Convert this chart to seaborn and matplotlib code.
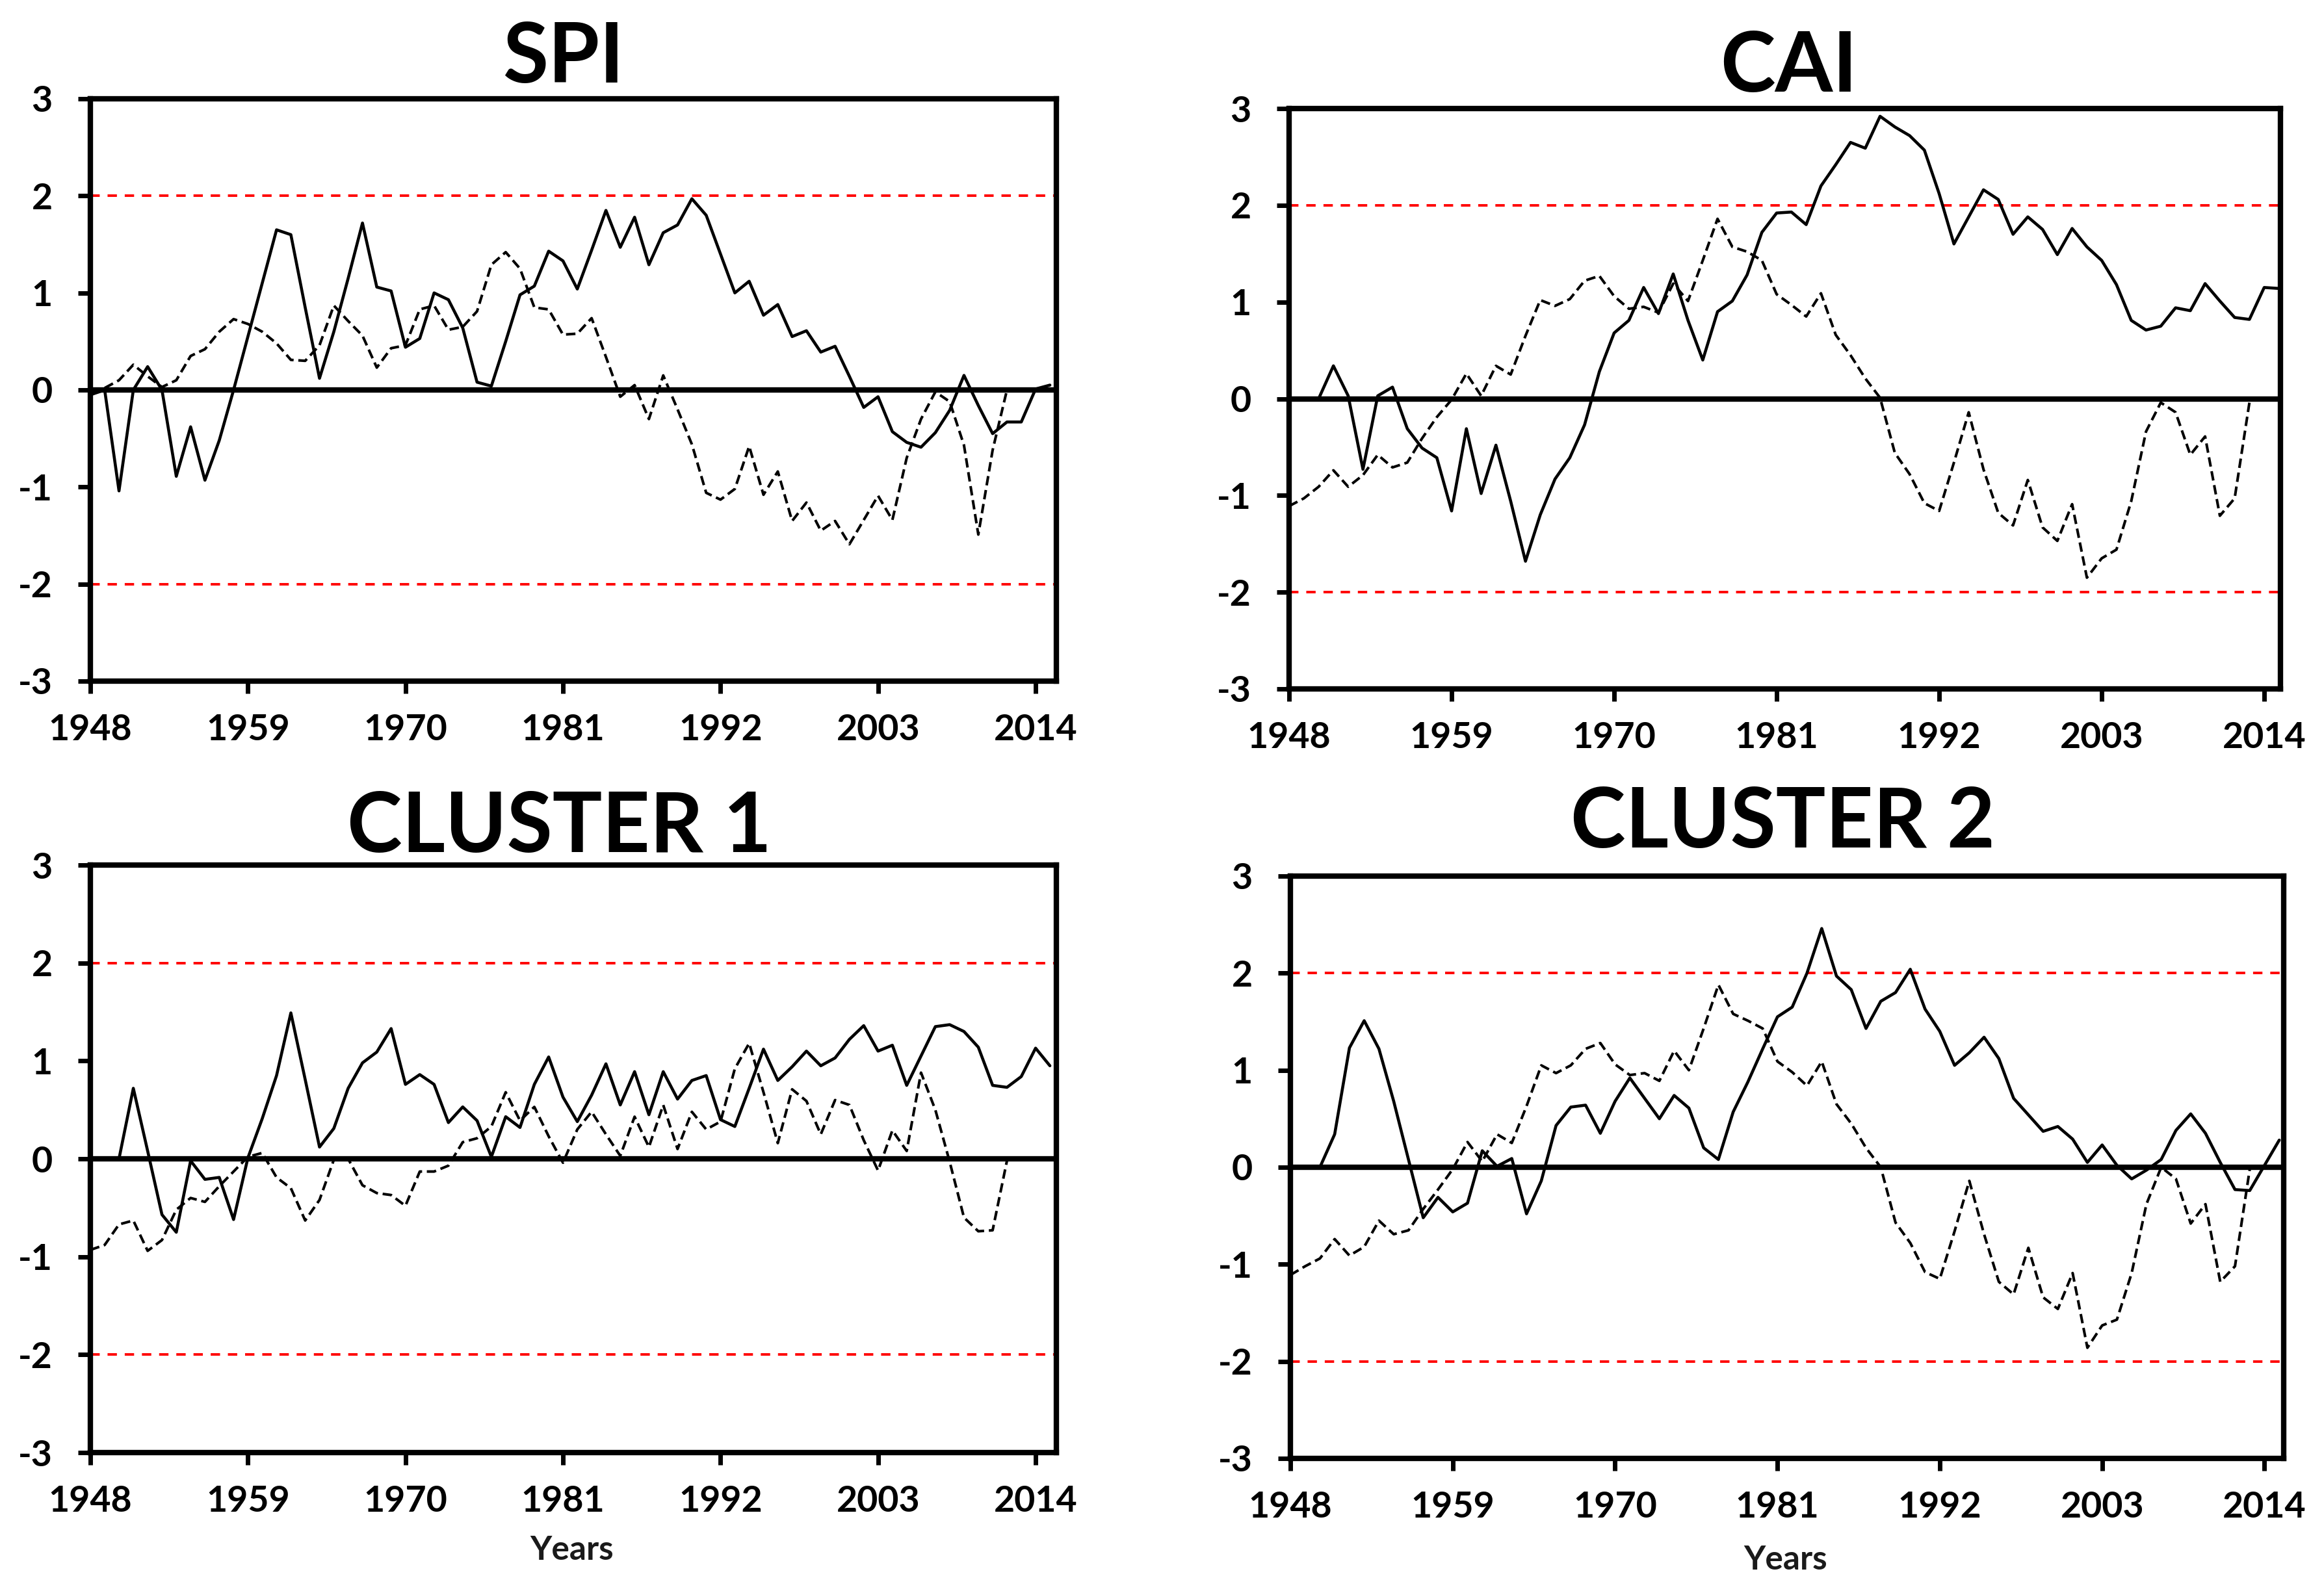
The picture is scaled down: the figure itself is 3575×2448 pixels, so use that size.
import numpy as np
import pandas as pd
import matplotlib
matplotlib.use("Agg")
import matplotlib.pyplot as plt
import seaborn as sns

nan = np.nan
years = list(range(1948, 2016))
xtick_years = list(range(1948, 2015, 11))
ytick_vals = [-3, -2, -1, 0, 1, 2, 3]

# values, 1948..2015 (nan = no value drawn)
spi_solid = [-0.05, 0.0, -1.04, 0.0, 0.24, 0.0, -0.89, -0.38, -0.93, -0.52,
             0.0, 0.55, 1.1, 1.65, 1.6, 0.85, 0.12, 0.6, 1.15, 1.72,
             1.06, 1.02, 0.44, 0.53, 1.0, 0.93, 0.64, 0.08, 0.04, 0.5,
             0.98, 1.07, 1.43, 1.33, 1.04, 1.44, 1.85, 1.47, 1.78, 1.29,
             1.62, 1.70, 1.97, 1.80, 1.40, 1.0, 1.12, 0.77, 0.88, 0.55,
             0.61, 0.39, 0.45, 0.14, -0.18, -0.07, -0.43, -0.54, -0.59, -0.44,
             -0.21, 0.15, -0.16, -0.45, -0.33, -0.33, 0.01, 0.05]
spi_dashed = [nan, 0.02, 0.1, 0.26, 0.14, 0.03, 0.1, 0.35, 0.42, 0.6,
              0.73, 0.68, 0.6, 0.48, 0.31, 0.3, 0.46, 0.87, 0.71, 0.56,
              0.23, 0.43, 0.46, 0.83, 0.87, 0.62, 0.65, 0.81, 1.29, 1.42,
              1.25, 0.85, 0.83, 0.57, 0.58, 0.74, 0.34, -0.07, 0.05, -0.3,
              0.15, -0.2, -0.56, -1.06, -1.13, -1.02, -0.58, -1.08, -0.84, -1.35,
              -1.16, -1.45, -1.35, -1.59, -1.34, -1.09, -1.34, -0.7, -0.3, -0.02,
              -0.12, -0.57, -1.49, -0.62, 0.0, nan, nan, nan]

cai_solid = [nan, nan, 0.0, 0.34, 0.03, -0.73, 0.03, 0.12, -0.31, -0.51,
             -0.61, -1.16, -0.31, -0.98, -0.48, -1.06, -1.68, -1.2, -0.83, -0.61,
             -0.27, 0.28, 0.68, 0.81, 1.15, 0.88, 1.29, 0.81, 0.40, 0.90,
             1.01, 1.28, 1.72, 1.92, 1.93, 1.80, 2.20, 2.42, 2.65, 2.59,
             2.92, 2.81, 2.72, 2.57, 2.12, 1.60, 1.88, 2.16, 2.06, 1.70,
             1.88, 1.75, 1.49, 1.76, 1.57, 1.43, 1.18, 0.81, 0.71, 0.75,
             0.94, 0.91, 1.19, 1.01, 0.84, 0.82, 1.15, 1.14]
cai_dashed = [-1.11, -1.03, -0.91, -0.74, -0.91, -0.79, -0.58, -0.71, -0.66, -0.41,
              -0.19, -0.01, 0.26, 0.03, 0.34, 0.25, 0.65, 1.02, 0.96, 1.03,
              1.22, 1.27, 1.06, 0.93, 0.95, 0.89, 1.19, 1.01, 1.43, 1.86,
              1.57, 1.52, 1.43, 1.08, 0.97, 0.85, 1.09, 0.66, 0.45, 0.21,
              0.01, -0.56, -0.78, -1.08, -1.16, -0.66, -0.14, -0.73, -1.18, -1.31,
              -0.84, -1.33, -1.47, -1.09, -1.85, -1.65, -1.56, -1.06, -0.34, -0.04,
              -0.14, -0.58, -0.39, -1.21, -1.03, -0.04, nan, nan]

cl1_solid = [nan, nan, 0.0, 0.72, 0.08, -0.57, -0.75, -0.02, -0.21, -0.19,
             -0.62, 0.01, 0.41, 0.85, 1.49, 0.81, 0.12, 0.31, 0.72, 0.98,
             1.09, 1.33, 0.76, 0.86, 0.76, 0.37, 0.53, 0.39, 0.02, 0.43,
             0.32, 0.76, 1.04, 0.63, 0.38, 0.65, 0.97, 0.55, 0.89, 0.45,
             0.89, 0.61, 0.80, 0.85, 0.40, 0.33, 0.72, 1.12, 0.80, 0.94,
             1.10, 0.95, 1.03, 1.22, 1.36, 1.10, 1.16, 0.75, 1.05, 1.35,
             1.37, 1.30, 1.14, 0.75, 0.73, 0.84, 1.13, 0.95]
cl1_dashed = [-0.93, -0.88, -0.67, -0.63, -0.94, -0.83, -0.52, -0.40, -0.44, -0.28,
              -0.13, 0.02, 0.06, -0.19, -0.30, -0.63, -0.42, -0.01, 0.0, -0.27,
              -0.35, -0.37, -0.48, -0.13, -0.13, -0.07, 0.17, 0.21, 0.33, 0.68,
              0.39, 0.53, 0.23, -0.04, 0.30, 0.48, 0.25, 0.03, 0.43, 0.12,
              0.55, 0.10, 0.48, 0.30, 0.38, 0.92, 1.18, 0.68, 0.16, 0.71,
              0.59, 0.25, 0.60, 0.55, 0.19, -0.12, 0.29, 0.08, 0.88, 0.50,
              -0.03, -0.60, -0.74, -0.73, -0.02, nan, nan, nan]

cl2_solid = [nan, nan, 0.0, 0.34, 1.23, 1.51, 1.22, 0.68, 0.08, -0.52,
             -0.31, -0.46, -0.37, 0.17, 0.01, 0.09, -0.48, -0.14, 0.43, 0.62,
             0.64, 0.35, 0.68, 0.92, 0.71, 0.50, 0.74, 0.61, 0.20, 0.08,
             0.57, 0.88, 1.22, 1.55, 1.65, 2.0, 2.46, 1.97, 1.83, 1.43,
             1.71, 1.80, 2.04, 1.63, 1.40, 1.05, 1.18, 1.34, 1.12, 0.71,
             0.54, 0.37, 0.42, 0.29, 0.05, 0.23, 0.02, -0.12, -0.03, 0.08,
             0.38, 0.55, 0.35, 0.05, -0.23, -0.24, 0.02, 0.28]
cl2_dashed = [-1.11, -1.02, -0.94, -0.74, -0.91, -0.82, -0.55, -0.69, -0.65, -0.43,
              -0.23, -0.02, 0.26, 0.06, 0.34, 0.25, 0.63, 1.05, 0.97, 1.05,
              1.22, 1.28, 1.06, 0.95, 0.97, 0.89, 1.20, 1.0, 1.43, 1.88,
              1.58, 1.51, 1.43, 1.09, 0.98, 0.84, 1.09, 0.65, 0.45, 0.20,
              0.0, -0.57, -0.78, -1.08, -1.15, -0.66, -0.14, -0.69, -1.18, -1.31,
              -0.83, -1.34, -1.46, -1.09, -1.86, -1.63, -1.57, -1.09, -0.38, 0.0,
              -0.12, -0.58, -0.38, -1.18, -1.02, -0.02, nan, nan]

titles = ["SPI", "CAI", "CLUSTER 1", "CLUSTER 2"]

sns.set_style("white")
plt.rcParams["font.family"] = ["Lato", "DejaVu Sans"]
plt.rcParams["font.weight"] = "bold"
plt.rcParams["axes.unicode_minus"] = False

W, H = 3575, 2448
fig = plt.figure(figsize=(W / 100, H / 100), dpi=100)


def px_rect(x0, y0, x1, y1):
    # pixel box (top-left origin) -> figure fraction rect
    return [x0 / W, 1 - y1 / H, (x1 - x0) / W, (y1 - y0) / H]


def draw_panel(ax, solid, dashed, xmax):
    df = pd.DataFrame({"year": years, "solid": solid, "dashed": dashed})
    for lvl in (2, -2):
        ax.axhline(lvl, color="#ff0000", lw=2.8, ls=(0, (3.7, 3.1)), zorder=2)
    ax.axhline(0, color="black", lw=6, zorder=3)
    sns.lineplot(data=df, x="year", y="solid", ax=ax, color="black",
                 lw=3.3, zorder=4)
    sns.lineplot(data=df, x="year", y="dashed", ax=ax, color="black",
                 lw=2.9, ls=(0, (3.6, 1.8)), zorder=4)
    ax.set_xlim(1948, xmax)
    ax.set_ylim(-3, 3)
    ax.set_xticks(xtick_years)
    ax.set_yticks(ytick_vals)
    ax.set_xlabel("")
    ax.set_ylabel("")
    for sp in ax.spines.values():
        sp.set_visible(True)
        sp.set_color("black")
        sp.set_linewidth(6)
    ax.tick_params(axis="x", bottom=True, direction="out", length=14, width=5,
                   pad=22, labelsize=40, colors="black")
    ax.tick_params(axis="y", left=True, direction="out", length=14, width=5,
                   pad=28, labelsize=40, colors="black")


ax1 = fig.add_axes(px_rect(139, 152, 1625, 1048))
draw_panel(ax1, spi_solid, spi_dashed, 2015.45)
ax2 = fig.add_axes(px_rect(1983, 167, 3508, 1060))
draw_panel(ax2, cai_solid, cai_dashed, 2015.1)
ax3 = fig.add_axes(px_rect(139, 1331, 1625, 2235))
draw_panel(ax3, cl1_solid, cl1_dashed, 2015.45)
ax4 = fig.add_axes(px_rect(1985, 1348, 3513, 2244))
draw_panel(ax4, cl2_solid, cl2_dashed, 2015.3)

# panel titles and x-axis labels
title_pos = [(867, 127), (2752, 141), (860, 1311), (2743, 1304)]
for t, (tx, ty) in zip(titles, title_pos):
    fig.text(tx / W, 1 - ty / H, t, ha="center", va="baseline",
             fontsize=92, fontweight="bold", color="black")

for tx, ty in [(880, 2400), (2747, 2415)]:
    fig.text(tx / W, 1 - ty / H, "Years", ha="center", va="baseline",
             fontsize=37, fontweight="bold", color="#1a1a1a")

fig.savefig("out.png", dpi=100, facecolor="white")
